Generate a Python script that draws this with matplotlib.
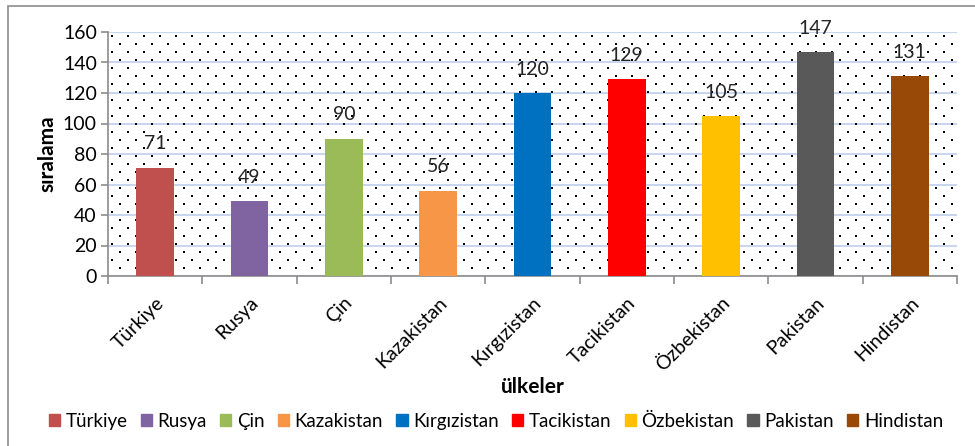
import matplotlib
matplotlib.use("Agg")
import matplotlib.pyplot as plt
import numpy as np
from matplotlib.patches import Rectangle
from matplotlib.transforms import ScaledTranslation

plt.rcParams["font.family"] = ["Lato", "DejaVu Sans"]

countries = ["Türkiye", "Rusya", "Çin", "Kazakistan", "Kırgızistan",
             "Tacikistan", "Özbekistan", "Pakistan", "Hindistan"]
ranks = [71, 49, 90, 56, 120, 129, 105, 147, 131]
colors = ["#C0504D", "#8064A2", "#9BBB59", "#F79646", "#0070C0",
          "#FF0000", "#FFC000", "#595959", "#984807"]

W, H = 975, 446
fig = plt.figure(figsize=(W / 100, H / 100), dpi=100)
ax = fig.add_axes([108 / W, 1 - 276 / H, 849 / W, 244 / H])

# outer chart frame (right/bottom edges fall outside the picture)
fig.patches.append(Rectangle((8 / W, -0.1), 1.2, 1 - 6 / H + 0.1,
                             transform=fig.transFigure, fill=False,
                             edgecolor="#8c8c8c", linewidth=1.2))

# dotted plot area pattern
aw, ah = 849, 244
pts = []
for r, yy in enumerate(np.arange(4, ah, 8)):
    off = 4 if r % 2 == 0 else 12
    for xx in np.arange(off, aw, 16):
        pts.append((xx / aw, 1 - yy / ah))
pts = np.array(pts)
ax.scatter(pts[:, 0], pts[:, 1], s=1.6, marker="s", color="black",
           linewidths=0, transform=ax.transAxes, zorder=1)

x = np.arange(len(countries))
bars = ax.bar(x, ranks, width=0.4, color=colors, zorder=3)
for xi, v in zip(x, ranks):
    ax.text(xi, v + 10, str(v), ha="center", va="bottom", fontsize=14,
            color="#262626", zorder=4)

ax.set_xlim(-0.5, len(countries) - 0.5)
ax.set_ylim(0, 160)
ax.set_yticks(np.arange(0, 161, 20))
ax.yaxis.grid(True, color="#c9d6ee", linewidth=1.5, zorder=0)
ax.set_axisbelow(True)

ax.set_xticks(x)
ax.set_xticklabels(countries, rotation=45, ha="right", rotation_mode="anchor",
                   fontsize=14)
shift = ScaledTranslation(4 / 100, 0, fig.dpi_scale_trans)
for lbl in ax.get_xticklabels():
    lbl.set_transform(lbl.get_transform() + shift)
ax.tick_params(axis="x", length=0, pad=13)
ax.set_xticks(np.arange(-0.5, len(countries)), minor=True)
ax.tick_params(axis="x", which="minor", length=6, color="#8c8c8c", width=1.2)
ax.tick_params(axis="y", length=5, color="#8c8c8c", width=1.2, labelsize=14,
               pad=3)

for s in ["top", "right"]:
    ax.spines[s].set_visible(False)
for s in ["left", "bottom"]:
    ax.spines[s].set_color("#8c8c8c")
    ax.spines[s].set_linewidth(1.2)

ax.set_ylabel("sıralama", fontsize=15, fontweight="bold", labelpad=4)
ax.set_xlabel("ülkeler", fontsize=15, fontweight="bold", labelpad=2)

handles = [Rectangle((0, 0), 1, 1, color=c) for c in colors]
fig.legend(handles, countries, loc="center", ncol=len(countries),
           bbox_to_anchor=(496 / W, 1 - 421 / H), frameon=False,
           fontsize=13.5, handlelength=0.6, handleheight=0.6,
           handletextpad=0.3, columnspacing=0.7)

fig.savefig("out.png", dpi=100)
